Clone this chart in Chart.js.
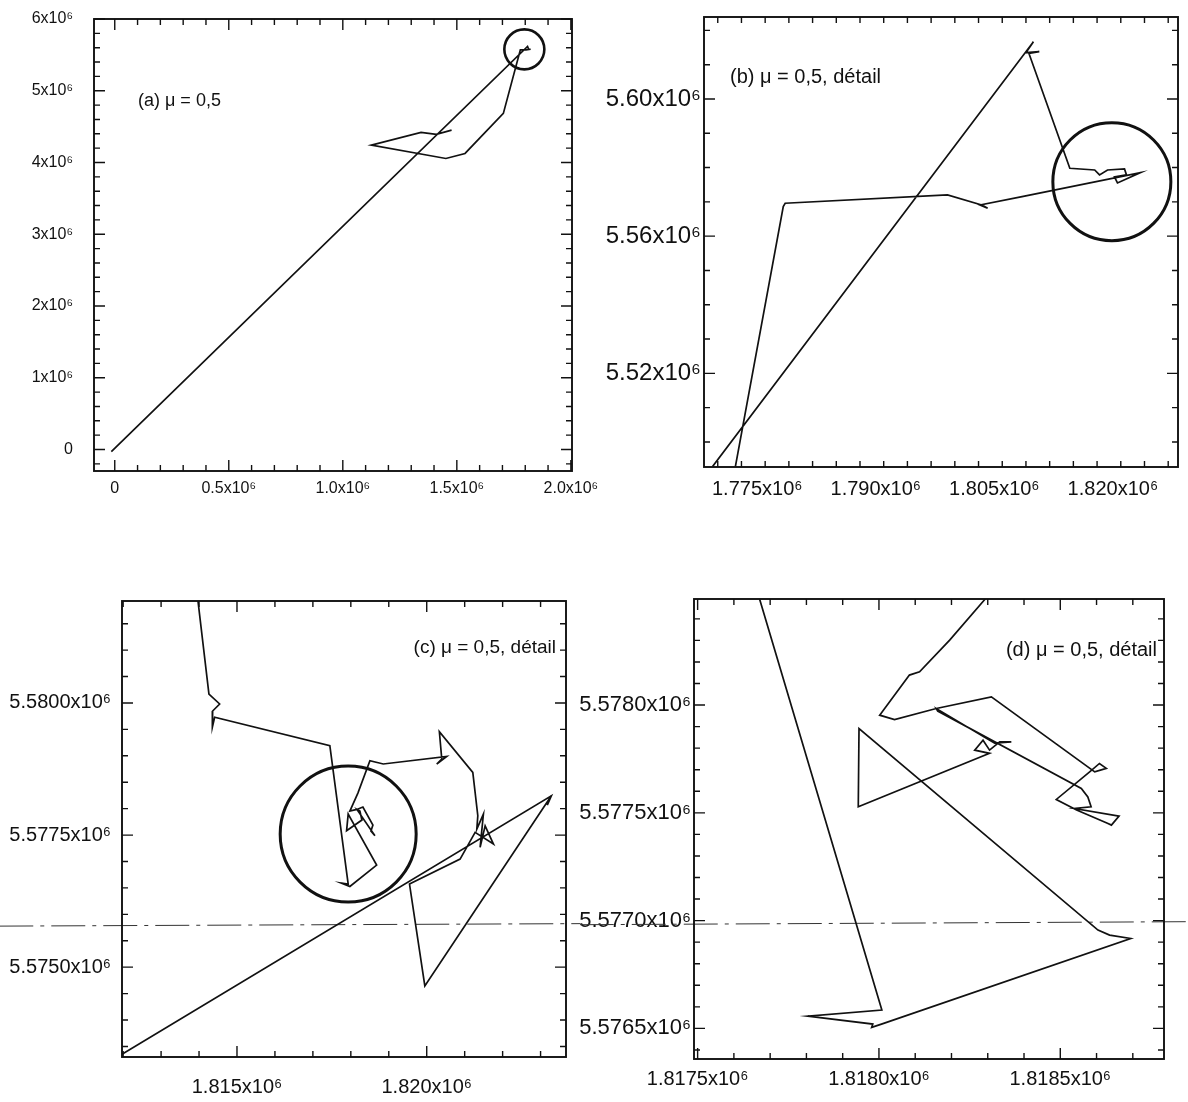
<!DOCTYPE html>
<html>
<head>
<meta charset="utf-8">
<script src="https://cdn.jsdelivr.net/npm/chart.js@4.4.1/dist/chart.umd.min.js"></script>
<style>
  body { margin: 0; background: #fff; width: 1188px; height: 1102px; position: relative; overflow: hidden; }
  canvas { position: absolute; }
</style>
</head>
<body>
<canvas id="chartA" width="620" height="540" style="left:0;top:-20px"></canvas>
<canvas id="chartB" width="598" height="530" style="left:590px;top:-10px"></canvas>
<canvas id="chartC" width="580" height="542" style="left:0;top:560px"></canvas>
<canvas id="chartD" width="608" height="542" style="left:580px;top:560px"></canvas>
<script>
const FONT = '"Liberation Sans", Arial, Helvetica, sans-serif';
const INK = '#111';

// (a) whole trajectory
const pathAx = [-15000, 1810000, 1814550, 1823500, 1803190, 1778530, 1704000, 1536000, 1452000, 1125000, 1343000, 1410000, 1477000];
const pathAy = [-30000, 5617000, 5579800, 5578520, 5569100, 5569600, 4684000, 4126000, 4056000, 4242000, 4419000, 4391000, 4451000];
const circleA = [1796000, 5577000];
const ticksAx = [0, 500000, 1000000, 1500000, 2000000];
const ticksAy = [0, 1000000, 2000000, 3000000, 4000000, 5000000, 6000000];

// (b) detail of the top of the path
const pathBx = [1769340, 1809950, 1808990, 1810690, 1809370, 1814550, 1817700, 1818310, 1819320, 1821470, 1821720, 1820200, 1820580, 1823500, 1808510, 1803190, 1804150, 1803500, 1799070, 1778530, 1778290, 1772230];
const pathBy = [5492820, 5616700, 5613500, 5613790, 5613320, 5579800, 5579300, 5577850, 5579300, 5579600, 5577850, 5577260, 5575510, 5578520, 5571520, 5569100, 5568140, 5569000, 5572020, 5569600, 5568610, 5492820];
const circleB = [1819870, 5575890];
const ticksBx = [1775000, 1790000, 1805000, 1820000];
const ticksBy = [5520000, 5560000, 5600000];

// (c) detail of the circled region of (b)
const pathCx = [1813968, 1814261, 1814543, 1814359, 1814351, 1814411, 1817447, 1817930, 1817756, 1817975, 1818680,
  1817930, 1817888, 1818292, 1818239, 1818160, 1818635, 1818530, 1818582, 1818318, 1818160, 1817975, 1818186,
  1818503, 1818854, 1820528, 1820264, 1820396, 1820333, 1821214, 1821346, 1821320, 1821494, 1821407, 1821539,
  1821758, 1821275, 1820879, 1819546, 1819950, 1823284, 1823176, 1823284, 1811969];
const pathCy = [5581956, 5580170, 5579981, 5579848, 5579540, 5579729, 5579191, 5576572, 5576591, 5576528, 5576932,
  5577898, 5577581, 5577784, 5577955, 5577985, 5577487, 5577576, 5577689, 5578030, 5577985, 5577955, 5578295,
  5578907, 5578845, 5578990, 5578845, 5578939, 5579456, 5578687, 5577866, 5577614, 5577898, 5577267, 5577676,
  5577330, 5577551, 5577045, 5576572, 5574646, 5578244, 5578068, 5578244, 5573352];
const circleC = [1817930, 5577520];
const ticksCx = [1815000, 1820000];
const ticksCy = [5575000, 5577500, 5580000];

// (d) detail of the circled region of (c)
const pathDx = [1817671, 1818008, 1817804, 1817983, 1817980, 1818007, 1818694, 1818636, 1818604, 1817945, 1817943,
  1818305, 1818264, 1818287, 1818305, 1818333, 1818365, 1818319, 1818158, 1818162, 1818558, 1818576, 1818585,
  1818539, 1818662, 1818641, 1818630, 1818545, 1818489, 1818581, 1818608, 1818627, 1818595, 1818310, 1818158,
  1818043, 1818002, 1818084, 1818112, 1818195, 1818293];
const pathDy = [5578491, 5576585, 5576557, 5576520, 5576505, 5576520, 5576917, 5576933, 5576956, 5577891, 5577528,
  5577776, 5577791, 5577837, 5577791, 5577829, 5577829, 5577823, 5577984, 5577972, 5577613, 5577574, 5577528,
  5577520, 5577485, 5577443, 5577452, 5577513, 5577562, 5577690, 5577729, 5577706, 5577690, 5578038, 5577984,
  5577933, 5577953, 5578139, 5578154, 5578301, 5578492];
const ticksDx = [1817500, 1818000, 1818500];
const ticksDy = [5576500, 5577000, 5577500, 5578000];

// dash-dot stray line crossing the lower half of the page
const scanCx = [1808736, 1824047];
const scanCy = [5575777, 5575824];
const scanDx = [1817175, 1818851];
const scanDy = [5576981, 5576995];

function sci(v, d) {
  return v === 0 ? '0' : (v / 1e6).toFixed(d) + 'x10\u2076';
}

function steps(min, max, step) {
  const out = [];
  for (let k = Math.ceil(min / step - 1e-9); k * step <= max + 1e-6; k++) out.push(k * step);
  return out;
}

const frame = {
  id: 'frame',
  afterDatasetsDraw(chart, args, o) {
    const { ctx, chartArea: a, scales: { x, y } } = chart;
    const isMajor = (v, list, step) => list.some(m => Math.abs(m - v) < step * 0.01);
    ctx.save();
    ctx.strokeStyle = INK;
    ctx.lineWidth = 1.9;
    ctx.strokeRect(a.left, a.top, a.right - a.left, a.bottom - a.top);
    ctx.lineWidth = 1.4;
    ctx.beginPath();
    steps(x.min, x.max, o.xStep).forEach(v => {
      const p = x.getPixelForValue(v);
      const len = isMajor(v, o.xMajor, o.xStep) ? o.major : o.minor;
      ctx.moveTo(p, a.bottom); ctx.lineTo(p, a.bottom - len);
      ctx.moveTo(p, a.top); ctx.lineTo(p, a.top + len);
    });
    steps(y.min, y.max, o.yStep).forEach(v => {
      const p = y.getPixelForValue(v);
      const len = isMajor(v, o.yMajor, o.yStep) ? o.major : o.minor;
      ctx.moveTo(a.left, p); ctx.lineTo(a.left + len, p);
      ctx.moveTo(a.right, p); ctx.lineTo(a.right - len, p);
    });
    ctx.stroke();
    const l = o.label;
    ctx.font = l.size + 'px ' + FONT;
    ctx.fillStyle = INK;
    ctx.textAlign = l.align;
    ctx.textBaseline = 'middle';
    ctx.fillText(l.text, l.x, l.y);
    ctx.restore();
  }
};

function makePanel(id, c) {
  const datasets = [{
    data: c.px.map((v, i) => ({ x: v, y: c.py[i] })),
    showLine: true,
    borderColor: INK,
    borderWidth: 1.7,
    pointRadius: 0,
    tension: 0
  }];
  if (c.circle) {
    datasets.push({
      data: [{ x: c.circle[0], y: c.circle[1] }],
      showLine: false,
      pointRadius: c.radius,
      pointBorderWidth: c.circleWidth,
      pointBorderColor: INK,
      pointBackgroundColor: 'rgba(0,0,0,0)',
      clip: false
    });
  }
  if (c.scanX) {
    datasets.push({
      data: c.scanX.map((v, i) => ({ x: v, y: c.scanY[i] })),
      showLine: true,
      borderColor: '#333',
      borderWidth: 1,
      borderDash: [34, 7, 4, 7],
      pointRadius: 0,
      clip: false
    });
  }
  return new Chart(document.getElementById(id), {
    type: 'scatter',
    data: { datasets },
    options: {
      responsive: false,
      animation: false,
      events: [],
      layout: { autoPadding: false, padding: { top: c.padTop, right: c.padRight, left: 0, bottom: 0 } },
      plugins: {
        legend: { display: false },
        tooltip: { enabled: false },
        frame: {
          xStep: c.xStep, yStep: c.yStep, xMajor: c.xTicks, yMajor: c.yTicks,
          major: 11, minor: 6, label: c.label
        }
      },
      scales: {
        x: {
          type: 'linear', min: c.xMin, max: c.xMax,
          grid: { display: false, drawTicks: false },
          border: { display: false },
          afterBuildTicks: s => { s.ticks = c.xTicks.map(v => ({ value: v })); },
          afterFit: s => { s.height = c.xAxisH; },
          ticks: {
            autoSkip: false, maxRotation: 0, padding: c.xPad, color: INK,
            font: { family: FONT, size: c.font },
            callback: v => sci(v, c.xDigits)
          }
        },
        y: {
          type: 'linear', min: c.yMin, max: c.yMax,
          grid: { display: false, drawTicks: false },
          border: { display: false },
          afterBuildTicks: s => { s.ticks = c.yTicks.map(v => ({ value: v })); },
          afterFit: s => { s.width = c.yAxisW; },
          ticks: {
            autoSkip: false, padding: c.yPad, color: INK,
            font: { family: FONT, size: c.yFont || c.font },
            callback: v => sci(v, c.yDigits)
          }
        }
      }
    },
    plugins: [frame]
  });
}

makePanel('chartA', {
  px: pathAx, py: pathAy, circle: circleA, radius: 20, circleWidth: 2.6,
  xMin: -91000, xMax: 2005000, yMin: -300000, yMax: 6000000,
  xTicks: ticksAx, yTicks: ticksAy, xStep: 100000, yStep: 200000, xDigits: 1, yDigits: 0,
  yAxisW: 94, xAxisH: 49, padTop: 39, padRight: 48, font: 16, xPad: 8, yPad: 21,
  label: { text: '(a) \u03bc = 0,5', x: 138, y: 121, align: 'left', size: 18 }
});

makePanel('chartB', {
  px: pathBx, py: pathBy, circle: circleB, radius: 59, circleWidth: 3,
  xMin: 1768260, xMax: 1828240, yMin: 5492700, yMax: 5623900,
  xTicks: ticksBx, yTicks: ticksBy, xStep: 3000, yStep: 10000, xDigits: 3, yDigits: 2,
  yAxisW: 114, xAxisH: 53, padTop: 27, padRight: 10, font: 20, yFont: 24, xPad: 10, yPad: 3,
  label: { text: '(b) \u03bc = 0,5, d\u00e9tail', x: 140, y: 87, align: 'left', size: 20 }
});

makePanel('chartC', {
  px: pathCx, py: pathCy, circle: circleC, radius: 68, circleWidth: 3,
  scanX: scanCx, scanY: scanCy,
  xMin: 1811970, xMax: 1823670, yMin: 5573300, yMax: 5581930,
  xTicks: ticksCx, yTicks: ticksCy, xStep: 1000, yStep: 500, xDigits: 3, yDigits: 4,
  yAxisW: 122, xAxisH: 45, padTop: 41, padRight: 14, font: 20, xPad: 18, yPad: 11,
  label: { text: '(c) \u03bc = 0,5, d\u00e9tail', x: 556, y: 88, align: 'right', size: 19 }
});

makePanel('chartD', {
  px: pathDx, py: pathDy, circle: null,
  scanX: scanDx, scanY: scanDy,
  xMin: 1817490, xMax: 1818786, yMin: 5576358, yMax: 5578492,
  xTicks: ticksDx, yTicks: ticksDy, xStep: 100, yStep: 100, xDigits: 4, yDigits: 4,
  yAxisW: 114, xAxisH: 43, padTop: 39, padRight: 24, font: 20, yFont: 22, xPad: 8, yPad: 3,
  label: { text: '(d) \u03bc = 0,5, d\u00e9tail', x: 577, y: 90, align: 'right', size: 20 }
});
</script>
</body>
</html>
